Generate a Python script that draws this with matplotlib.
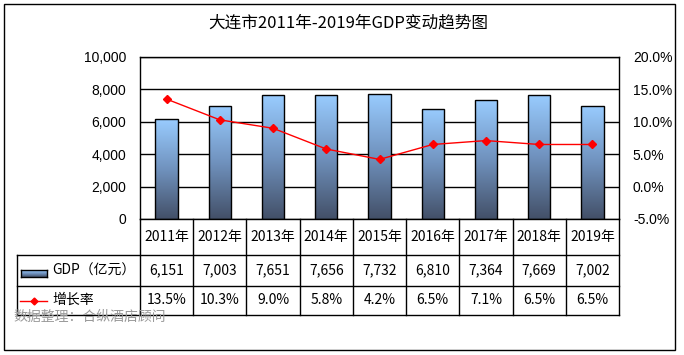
import matplotlib
matplotlib.use("Agg")
import matplotlib.pyplot as plt
import numpy as np
from matplotlib.transforms import blended_transform_factory
from matplotlib.colors import LinearSegmentedColormap
from matplotlib.patches import Rectangle
from matplotlib.lines import Line2D

plt.rcParams['font.family'] = ['Noto Sans CJK SC', 'DejaVu Sans']

years = ["2011年", "2012年", "2013年", "2014年", "2015年", "2016年", "2017年", "2018年", "2019年"]
gdp = [6151, 7003, 7651, 7656, 7732, 6810, 7364, 7669, 7002]
growth = [13.5, 10.3, 9.0, 5.8, 4.2, 6.5, 7.1, 6.5, 6.5]
gdp_labels = ["6,151", "7,003", "7,651", "7,656", "7,732", "6,810", "7,364", "7,669", "7,002"]
growth_labels = ["13.5%", "10.3%", "9.0%", "5.8%", "4.2%", "6.5%", "7.1%", "6.5%", "6.5%"]
title = "大连市2011年-2019年GDP变动趋势图"
series_names = ["GDP（亿元）", "增长率"]
watermark = "数据整理：合纵酒店顾问"

W, H = 684, 355
fig = plt.figure(figsize=(W / 100, H / 100), dpi=100)
fig.patch.set_facecolor("white")

def fx(px):
    return px / W

def fy(py):
    return 1 - py / H

# outer border
fig.add_artist(Rectangle((fx(4), fy(350)), fx(671), (346) / H, transform=fig.transFigure,
                         fill=False, edgecolor="black", lw=1.0))

# main axes
L, R, T, B = 140, 619, 57, 219
ax = fig.add_axes([fx(L), fy(B), fx(R - L), (B - T) / H])
ax.set_xlim(-0.5, len(years) - 0.5)
ax.set_ylim(0, 10000)
ax.set_yticks(np.arange(0, 10001, 2000))
ax.set_yticklabels([f"{v:,}" for v in range(0, 10001, 2000)], family="Liberation Sans", fontsize=10)
ax.set_xticks([])
ax.tick_params(axis="y", length=0, pad=10)
ax.yaxis.grid(True, color="black", lw=1.0)
ax.set_axisbelow(True)
for s in ax.spines.values():
    s.set_linewidth(1.0)

cmap = LinearSegmentedColormap.from_list("g", ["#435068", "#7092BE", "#99CCFF"])
grad = np.linspace(0, 1, 256).reshape(-1, 1)
x = np.arange(len(years))
bars = ax.bar(x, gdp, width=0.42, facecolor="none", edgecolor="black", lw=1.0, zorder=3)
for b in bars:
    bx, by = b.get_x(), b.get_y()
    bw, bh = b.get_width(), b.get_height()
    im = ax.imshow(grad, cmap=cmap, origin="lower", aspect="auto",
                   extent=[bx, bx + bw, by, by + bh], zorder=2)
    im.set_clip_path(b)
ax.set_xlim(-0.5, len(years) - 0.5)
ax.set_ylim(0, 10000)

ax2 = ax.twinx()
ax2.set_ylim(-5, 20)
ax2.set_yticks(np.arange(-5, 20.1, 5))
ax2.set_yticklabels([f"{v:.1f}%" for v in np.arange(-5, 20.1, 5)], family="Liberation Sans", fontsize=10)
ax2.tick_params(axis="y", length=0, pad=10)
ax2.plot(x, growth, color="red", lw=1.0, marker="D", markersize=4.5, zorder=5)
for s in ax2.spines.values():
    s.set_visible(False)

# data table
tr = blended_transform_factory(ax.transData, fig.transFigure)
rows = [219, 255, 286, 315]
tl = 17
for i in range(len(years) + 1):
    fig.add_artist(Line2D([i - 0.5, i - 0.5], [fy(rows[0]), fy(rows[3])], transform=tr,
                          color="black", lw=1.0))
for r in rows[1:]:
    fig.add_artist(Line2D([fx(tl), fx(R)], [fy(r), fy(r)], transform=fig.transFigure,
                          color="black", lw=1.0))
fig.add_artist(Line2D([fx(tl), fx(tl)], [fy(rows[1]), fy(rows[3])], transform=fig.transFigure,
                      color="black", lw=1.0))

for i in range(len(years)):
    fig.text(i, fy((rows[0] + rows[1]) / 2), years[i], transform=tr, ha="center", va="center", fontsize=10)
    fig.text(i, fy((rows[1] + rows[2]) / 2), gdp_labels[i], transform=tr, ha="center", va="center", fontsize=10)
    fig.text(i, fy((rows[2] + rows[3]) / 2), growth_labels[i], transform=tr, ha="center", va="center", fontsize=10)

# legend keys in table
lax = fig.add_axes([fx(21), fy(277), fx(26), 7 / H])
lax.imshow(grad, cmap=cmap, origin="lower", aspect="auto", extent=[0, 1, 0, 1])
lax.set_xticks([]); lax.set_yticks([])
for s in lax.spines.values():
    s.set_linewidth(1.0)
fig.text(fx(52), fy(271), series_names[0], ha="left", va="center", fontsize=10)
ym = fy(301)
fig.add_artist(Line2D([fx(20), fx(47)], [ym, ym], transform=fig.transFigure, color="red", lw=1.0))
fig.add_artist(Line2D([fx(33.5)], [ym], transform=fig.transFigure, color="red", marker="D",
                      markersize=3.5, lw=0))
fig.text(fx(52), fy(300), series_names[1], ha="left", va="center", fontsize=10)

fig.text(fx(13), fy(317), watermark, ha="left", va="center", fontsize=10, color="#999999")

fig.text(fx(348), fy(23), title, ha="center", va="center", fontsize=12)

fig.savefig("out.png", dpi=100, facecolor="white")
